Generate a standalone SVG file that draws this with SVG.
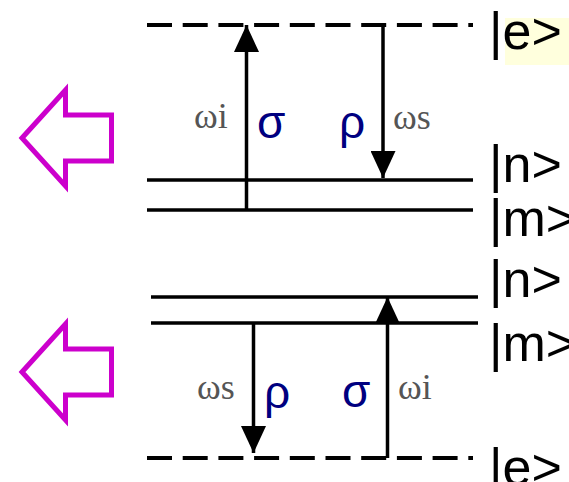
<svg xmlns="http://www.w3.org/2000/svg" width="569" height="482" viewBox="0 0 569 482">
<style>
.lvl{stroke:#000;stroke-width:3.5;fill:none}
.dash{stroke:#000;stroke-width:4;stroke-dasharray:25 10.7;fill:none}
.tr{stroke:#000;stroke-width:3.5;fill:none}
.big{stroke:#cc00cc;stroke-width:5;fill:#fff;stroke-linejoin:miter}
.ket{font-family:"Liberation Sans",Arial,sans-serif;font-size:52px;fill:#000}
.gr{font-family:"Liberation Sans",Arial,sans-serif;font-size:46px;fill:#000080}
.om{font-family:"Liberation Serif","Times New Roman",serif;font-size:36px;fill:#555}
</style>
<defs>
<marker id="ah" viewBox="0 0 27 25" refX="27" refY="12.5" markerWidth="27" markerHeight="25" markerUnits="userSpaceOnUse" orient="auto">
<path d="M0,0 L27,12.5 L0,25 z" fill="#000"/>
</marker>
</defs>
<rect x="505" y="18" width="64" height="47" fill="#ffffdd"/>
<g id="top-levels">
<line class="dash" x1="147" y1="25" x2="473" y2="25"/>
<line class="lvl" x1="147" y1="180" x2="473" y2="180"/>
<line class="lvl" x1="147" y1="210" x2="473" y2="210"/>
</g>
<g id="bottom-levels">
<line class="lvl" x1="151" y1="297" x2="478" y2="297"/>
<line class="lvl" x1="151" y1="323" x2="478" y2="323"/>
<line class="dash" x1="147" y1="458" x2="473" y2="458"/>
</g>
<g id="connectors">
<line class="tr" x1="246.5" y1="210" x2="246.5" y2="25" marker-end="url(#ah)"/>
<line class="tr" x1="383" y1="25" x2="383" y2="178" marker-end="url(#ah)"/>
<line class="tr" x1="253.5" y1="323" x2="253.5" y2="453" marker-end="url(#ah)"/>
<line class="tr" x1="387.5" y1="458" x2="387.5" y2="297" marker-end="url(#ah)"/>
</g>
<g id="top-labels">
<text class="om" x="194" y="128">ωi</text>
<text class="gr" x="257" y="138">σ</text>
<text class="gr" x="339" y="138">ρ</text>
<text class="om" x="393" y="129">ωs</text>
</g>
<g id="bottom-labels">
<text class="om" x="197" y="399">ωs</text>
<text class="gr" x="264" y="408">ρ</text>
<text class="gr" x="342" y="407">σ</text>
<text class="om" x="398" y="399">ωi</text>
</g>
<g id="kets">
<text class="ket" x="489" y="49">|e&gt;</text>
<text class="ket" x="489" y="182">|n&gt;</text>
<text class="ket" x="489" y="236">|m&gt;</text>
<text class="ket" x="489" y="297">|n&gt;</text>
<text class="ket" x="489" y="361">|m&gt;</text>
<text class="ket" x="489" y="485">|e&gt;</text>
</g>
<g id="arrow-top">
<polygon class="big" points="22,138 65.5,90 65.5,115 111.5,115 111.5,161 65.5,161 65.5,186"/>
</g>
<g id="arrow-bottom">
<polygon class="big" points="22,372 65.5,324 65.5,349 111.5,349 111.5,395 65.5,395 65.5,420"/>
</g>
</svg>
